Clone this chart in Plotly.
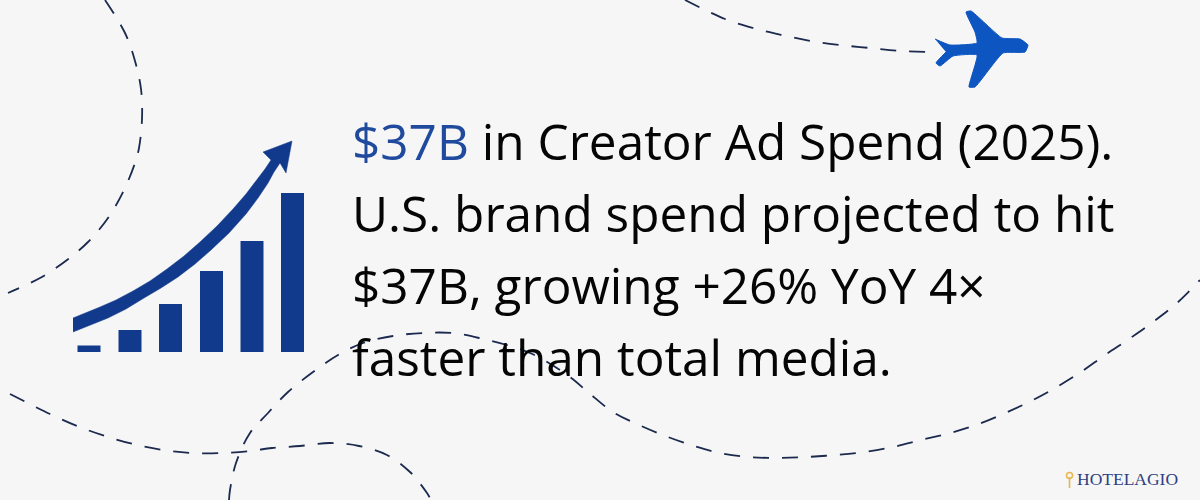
import plotly.graph_objects as go

# 柱子
bar_x = [89, 130, 170.5, 211.5, 252, 292.5]
bar_h = [6.5, 22, 48, 81, 111, 159]
bar_base = 352

# 箭头
arrow_x = [73, 86, 100, 116, 133, 150, 167, 184, 200, 217, 233, 246, 257, 265, 271, 263, 292, 286, 280,
           274, 268, 258, 246, 229, 211, 195, 178, 161, 144, 126, 108, 90, 73]
arrow_y = [318, 313, 307, 300, 291, 281, 269, 256, 242, 226, 209, 194, 180, 169, 160, 152, 141, 173, 163,
           172, 183, 198, 214, 233, 250, 264, 277, 288, 298, 309, 318, 325, 332]

# 飞机
plane_x = [935, 950, 977, 975, 966, 971, 1002, 1020, 1028, 1025, 1003, 975, 969, 977, 953, 940, 936, 946]
plane_y = [39, 45, 43, 32, 12, 11, 38, 39, 45, 52, 53, 87, 87, 55, 56, 66, 63, 52]

# 虚线
path1_x = [105, 125, 135, 141, 142, 139, 135, 124, 108, 88, 67, 40, 8]
path1_y = [0, 33, 61, 89, 119, 148, 163, 190, 218, 242, 260, 278, 293]
path2_x = [685, 725, 753, 782, 811, 840, 870, 900, 932]
path2_y = [0, 19, 28, 35, 41, 45, 48, 51, 52]
path3_x = [10, 50, 77, 105, 133, 163, 192, 222, 250, 272, 300, 330, 359, 387, 410, 427, 431]
path3_y = [394, 414, 426, 436, 444, 450, 453, 453, 451, 448, 446, 443, 446, 455, 472, 493, 500]
path4_x = [229, 230, 236, 250, 268, 288, 313, 338, 363, 393, 423, 452, 479, 530, 570, 589, 613, 639, 668, 694, 720,
           749, 778, 806, 835, 864, 893, 921, 950, 976, 1003, 1029, 1055, 1081, 1105, 1129, 1153, 1177, 1200]
path4_y = [500, 490, 463, 433, 413, 392, 372, 355, 343, 336, 333, 333, 338, 353, 377, 393, 412, 425, 437, 446, 453,
           457, 458, 457, 455, 452, 447, 440, 433, 425, 414, 402, 388, 372, 355, 339, 322, 303, 280]

# 文字
text_lines = [
    '<span style="color:#1f4a9e">$37B</span> in Creator Ad Spend (2025).',
    'U.S. brand spend projected to hit',
    '$37B, growing +26% YoY 4×',
    'faster than total media.',
]
text_y = [141, 213, 285, 357]

fig = go.Figure()

for px, py in [(path1_x, path1_y), (path2_x, path2_y), (path3_x, path3_y), (path4_x, path4_y)]:
    fig.add_trace(go.Scatter(x=px, y=py, mode='lines',
                             line=dict(color='#1b2a4e', width=1.8, dash='16px,13px', shape='spline')))

fig.add_trace(go.Scatter(x=arrow_x, y=arrow_y, mode='lines', fill='toself', fillcolor='#123a8c',
                         line=dict(color='#123a8c', width=0.5)))
fig.add_trace(go.Bar(x=bar_x, y=[-h for h in bar_h], base=bar_base, width=23, marker=dict(color='#123a8c', line_width=0)))
fig.add_trace(go.Scatter(x=plane_x, y=plane_y, mode='lines', fill='toself', fillcolor='#0d55c0',
                         line=dict(color='#0d55c0', width=1, shape='spline', smoothing=0.4)))

# logo 钥匙
fig.add_trace(go.Scatter(x=[1069.5, 1069.5], y=[477, 488], mode='lines', line=dict(color='#e8b64c', width=1.6)))
fig.add_trace(go.Scatter(x=[1069.5], y=[475.5], mode='markers',
                         marker=dict(symbol='circle-open', size=6, color='#e8b64c', line_width=1.5)))

for line, y in zip(text_lines, text_y):
    fig.add_annotation(x=352, y=y, text=line, showarrow=False, xanchor='left', yanchor='middle', xshift=-2,
                       font=dict(family='Open Sans', size=49.5, color='#050505'))

fig.add_annotation(x=1077, y=479, text='HOTELAGIO', showarrow=False, xanchor='left', yanchor='middle', xshift=-2,
                   font=dict(family='Liberation Serif', size=17.5, color='#2f4080'))

fig.update_layout(
    width=1200, height=500,
    margin=dict(l=0, r=0, t=0, b=0),
    paper_bgcolor='#f6f6f6',
    plot_bgcolor='#f6f6f6',
    showlegend=False,
    hovermode=False,
)
fig.update_xaxes(range=[0, 1200], visible=False)
fig.update_yaxes(range=[500, 0], visible=False)

# 去掉页面默认边距
fig.write_html("out.html", config={'displayModeBar': False}, post_script="document.body.style.margin='0';")
